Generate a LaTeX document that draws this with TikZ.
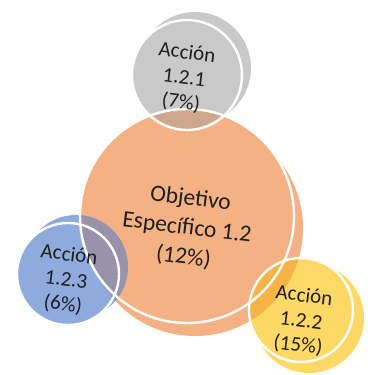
\documentclass[tikz,border=0pt]{standalone}
\usepackage{fontspec}
\setmainfont{Carlito}
\definecolor{objorange}{HTML}{F4B183}
\definecolor{accgray}{HTML}{C9C9C9}
\definecolor{accblue}{HTML}{8FAADC}
\definecolor{accyellow}{HTML}{FFD966}
\definecolor{grayover}{HTML}{CFA78E}
\definecolor{blueover}{HTML}{9892AC}
\definecolor{yellowover}{HTML}{F5B445}

\begin{document}
\begin{tikzpicture}[x=1pt, y=-1pt,
  ring/.style={draw=white, line width=2.4pt},
  biglbl/.style={rotate=-7, align=center, text=black!88, font=\fontsize{23.5}{29.5}\selectfont},
  lbl/.style={rotate=-7, align=center, text=black!88, font=\fontsize{21}{25}\selectfont}]
\useasboundingbox (0,0) rectangle (367,375);
% discs: front face and back face
\coordinate (objF) at (187,216);  \coordinate (objB) at (195,228);
\coordinate (grayF) at (187,75);  \coordinate (grayB) at (195,68);
\coordinate (blueF) at (68,274);  \coordinate (blueB) at (76,267);
\coordinate (yelF) at (301,310);  \coordinate (yelB) at (309,318);
% fills
\fill[objorange] (objF) circle (107) (objB) circle (108);
\fill[accgray] (grayF) circle (55) (grayB) circle (56);
\fill[accblue] (blueF) circle (51) (blueB) circle (52);
\fill[accyellow] (yelF) circle (52) (yelB) circle (55);
% where the small discs lie over the big one
\begin{scope}
  \clip (objF) circle (107) (objB) circle (108);
  \fill[grayover] (grayF) circle (55) (grayB) circle (56);
  \fill[blueover] (blueF) circle (51) (blueB) circle (52);
  \fill[yellowover] (yelF) circle (52) (yelB) circle (55);
\end{scope}
% white rims of the front faces
\draw[ring] (objF) circle (107);
\draw[ring] (grayF) circle (55);
\draw[ring] (blueF) circle (51);
\draw[ring] (yelF) circle (52);
% labels
\node[biglbl] (obj) at (187,228) {Objetivo\\Específico 1.2\\(12\%)};
\node[lbl] (acc121) at (184,78) {Acción\\1.2.1\\(7\%)};
\node[lbl] (acc123) at (66,280) {Acción\\1.2.3\\(6\%)};
\node[lbl] (acc122) at (301,321) {Acción\\1.2.2\\(15\%)};
\end{tikzpicture}
\end{document}
